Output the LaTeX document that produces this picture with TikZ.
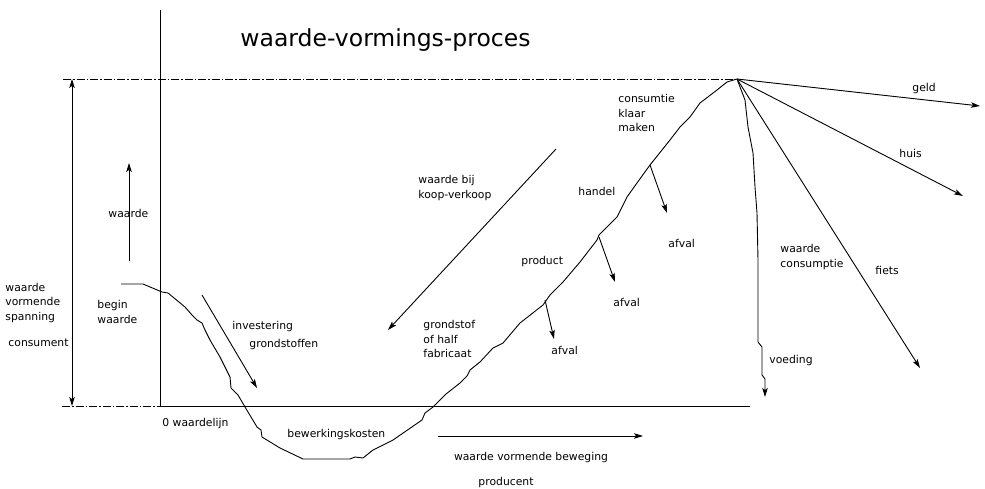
\documentclass[tikz,border=0pt]{standalone}
\usepackage{fontspec}
\setmainfont{DejaVu Sans}
\usetikzlibrary{positioning,arrows.meta}

\begin{document}
\begin{tikzpicture}[
    x=1pt, y=-1pt,
    line width=0.9pt, line join=round,
    >={Stealth[length=9pt,width=5.5pt,inset=2pt]},
    label/.style={anchor=west, inner sep=0pt, align=left, font=\fontsize{10.8}{14.5}\selectfont},
    heading/.style={anchor=west, inner sep=0pt, font=\fontsize{23.5}{26}\selectfont},
    dashdot/.style={dash pattern=on 8pt off 2pt on 1.5pt off 2pt},
    flow/.style={->}
]
\useasboundingbox (0,0) rectangle (985,489);

\coordinate (AxisTop) at (160,10);
\coordinate (AxisFoot) at (160,406);
\coordinate (ZeroLeft) at (62,406);
\coordinate (ZeroRight) at (750,406);
\coordinate (TopLeft) at (63,79);
\coordinate (Peak) at (737,79);

\draw (AxisTop) -- (AxisFoot);
\draw [dashdot] (ZeroLeft) -- (AxisFoot);
\draw (AxisFoot) -- (ZeroRight);
\draw [dashdot] (TopLeft) -- (Peak);

\coordinate (SpanTop) at (72,79);
\coordinate (SpanFoot) at (72,406);
\draw [<->] (SpanFoot) -- (SpanTop);

\node [heading] (Title) at (240,40) {waarde-vormings-proces};

\node [label] (Spanning) at (5,303) {waarde\\vormende\\spanning};
\node [label] (Consument) at (8,343) {consument};
\node [label] (Waarde) at (108,213) {waarde};
\node [label] (Begin) at (97,312) {begin\\waarde};
\node [label] (Investering) at (232,327) {investering};
\node [label] (Grondstoffen) at (249,345) {grondstoffen};
\node [label] (NulLijn) at (162,424) {0 waardelijn};
\node [label] (Bewerking) at (287,435) {bewerkingskosten};
\node [label, anchor=center] (Beweging) at (531,458) {waarde vormende beweging};
\node [label, anchor=center] (Producent) at (506,483) {producent};
\node [label] (KoopVerkoop) at (418,188) {waarde bij\\koop-verkoop};
\node [label] (Grondstof) at (423,339) {grondstof\\of half\\fabricaat};
\node [label] (Product) at (521,262) {product};
\node [label] (Handel) at (578,191) {handel};
\node [label] (Klaar) at (618,113) {consumtie\\klaar\\maken};
\node [label] (AfvalA) at (551,350) {afval};
\node [label] (AfvalB) at (613,302) {afval};
\node [label] (AfvalC) at (668,243) {afval};
\node [label] (Geld) at (912,89) {geld};
\node [label] (Huis) at (899,153) {huis};
\node [label] (Consumptie) at (780,257) {waarde\\consumptie};
\node [label] (Fiets) at (875,270) {fiets};
\node [label] (Voeding) at (769,361) {voeding};

\coordinate (WaardeFoot) at (129,261);
\coordinate (WaardeTip) at (129,163);
\coordinate (InvStart) at (202,295);
\coordinate (InvTip) at (257,388);
\coordinate (KoopStart) at (556,149);
\coordinate (KoopTip) at (388,330);
\coordinate (BewStart) at (438,436);
\coordinate (BewTip) at (643,436);
\draw [flow] (WaardeFoot) -- (WaardeTip);
\draw [flow] (InvStart) -- (InvTip);
\draw [flow] (KoopStart) -- (KoopTip);
\draw [flow] (BewStart) -- (BewTip);

\draw (121,284) -- (143,284) -- (162,292) -- (168,293) -- (185,307) -- (192,315)
  -- (197,320) -- (202,323) -- (205,330) -- (210,340) -- (220,357) -- (230,377)
  -- (231,388) -- (238,395) -- (245,407) -- (257,427) -- (261,430) -- (262,437)
  -- (280,448) -- (303,459) -- (350,459) -- (355,457) -- (363,458) -- (373,450)
  -- (393,440) -- (422,420) -- (425,413) -- (433,407) -- (446,394) -- (460,383)
  -- (467,376) -- (470,370) -- (480,362) -- (493,348) -- (503,343) -- (520,323)
  -- (543,305) -- (550,295) -- (563,282) -- (580,262) -- (597,240) -- (599,235)
  -- (617,217) -- (627,197) -- (637,183) -- (650,165) -- (658,155) -- (670,140)
  -- (680,127) -- (690,117) -- (700,103) -- (717,90) -- (727,82) -- (Peak);

\coordinate (AfvalAStart) at (545,300);
\coordinate (AfvalATip) at (554,339);
\coordinate (AfvalBStart) at (599,237);
\coordinate (AfvalBTip) at (615,282);
\coordinate (AfvalCStart) at (650,165);
\coordinate (AfvalCTip) at (667,213);
\draw [flow] (AfvalAStart) -- (AfvalATip);
\draw [flow] (AfvalBStart) -- (AfvalBTip);
\draw [flow] (AfvalCStart) -- (AfvalCTip);

\coordinate (GeldTip) at (980,106);
\coordinate (HuisTip) at (963,196);
\coordinate (FietsTip) at (920,368);
\draw [flow] (Peak) -- (GeldTip);
\draw [flow] (Peak) -- (HuisTip);
\draw [flow] (Peak) -- (FietsTip);

\coordinate (VoedingTip) at (765,397);
\draw [flow] (Peak) -- (745,100) -- (748,127) -- (753,153) -- (755,187) -- (757,213)
  -- (758,260) -- (758,342) -- (762,347) -- (762,375) -- (765,379) -- (VoedingTip);

\end{tikzpicture}
\end{document}
